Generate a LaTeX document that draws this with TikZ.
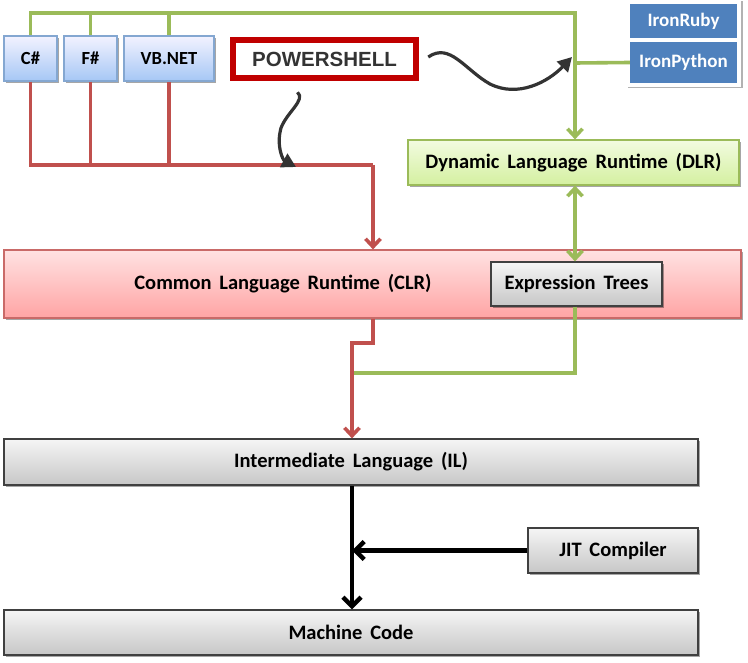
\documentclass[tikz,border=0pt]{standalone}
\usepackage{fontspec}
\setmainfont{Carlito}
\newfontfamily\psfont{Liberation Sans}
\usetikzlibrary{arrows.meta,shadows,calc}
\definecolor{gline}{HTML}{9BBB59}
\definecolor{rline}{HTML}{C0504D}
\definecolor{ironblue}{HTML}{4F81BD}
\definecolor{psred}{HTML}{C00000}
\newcommand{\wsp}{\hspace{0.38em}}
\tikzset{
  box/.style={rectangle, inner sep=0pt, font=\fontsize{20.5}{24}\selectfont\bfseries, text=black,
    drop shadow={shadow xshift=2pt, shadow yshift=-2pt, opacity=0.35, fill=black}},
  langbox/.style={box, draw=ironblue!70, line width=1.2pt, font=\fontsize{18.5}{22}\selectfont\bfseries, top color=blue!5!white, bottom color={rgb,255:red,166;green,199;blue,245}},
  graybox/.style={box, draw=black!75, line width=1.2pt, top color=black!4, bottom color=black!22},
  clrbox/.style={box, draw=rline!85, line width=1.2pt, top color={rgb,255:red,255;green,226;blue,226}, bottom color={rgb,255:red,255;green,164;blue,164}},
  dlrbox/.style={box, draw=gline, line width=1.2pt, top color={rgb,255:red,242;green,251;blue,224}, bottom color={rgb,255:red,212;green,240;blue,160}},
  ironbox/.style={rectangle, inner sep=0pt, fill=ironblue, text=white, font=\fontsize{19}{22}\selectfont\bfseries},
  gconn/.style={draw=gline, line width=3.6pt},
  rconn/.style={draw=rline, line width=3.6pt},
  kconn/.style={draw=black, line width=4.5pt},
  barb/.style={-{Straight Barb[length=8pt,width=15pt,line width=3.6pt]}},
  wave/.style={draw=black!80, line width=3.2pt, -{Triangle[length=14pt,width=15pt]}},
}
\begin{document}
\begin{tikzpicture}[x=1pt,y=-1pt]
\useasboundingbox (0,0) rectangle (748,663);
% white panel behind Iron languages
\node[rectangle, fill=white, minimum width=115pt, minimum height=87pt, inner sep=0pt,
  drop shadow={shadow xshift=1.5pt, shadow yshift=-1.5pt, opacity=0.3, fill=black}] (panel) at (683.5,43.5) {};
\node[ironbox, minimum width=107pt, minimum height=34pt] (ruby) at (683.5,21) {IronRuby};
\node[ironbox, minimum width=107pt, minimum height=41pt] (python) at (683.5,62.5) {IronPython};

\node[langbox, minimum width=53pt, minimum height=45pt] (cs) at (30.5,58.5) {C\#};
\node[langbox, minimum width=53pt, minimum height=45pt] (fs) at (90.5,58.5) {F\#};
\node[langbox, minimum width=90pt, minimum height=45pt] (vb) at (169,58.5) {VB.NET};

\node[rectangle, inner sep=0pt, draw=psred, line width=6.5pt, fill=white, minimum width=183pt, minimum height=38pt,
  text=black!80, font=\fontsize{20.5}{24}\selectfont\psfont\bfseries,
  drop shadow={shadow xshift=3pt, shadow yshift=-3pt, opacity=0.35, fill=black}] (ps) at (324.5,59) {POWERSHELL};

\node[dlrbox, minimum width=331pt, minimum height=45pt] (dlr) at (573.5,162.5) {Dynamic\wsp Language\wsp Runtime\wsp (DLR)};
\node[clrbox, minimum width=737pt, minimum height=68pt] (clr) at (372.5,284) {};
\node[font=\fontsize{20.5}{24}\selectfont\bfseries] (clrt) at (283,284) {Common\wsp Language\wsp Runtime\wsp (CLR)};
\node[graybox, minimum width=171pt, minimum height=44pt] (et) at (576.5,284) {Expression\wsp Trees};
\node[graybox, minimum width=694pt, minimum height=46pt] (il) at (351,462) {Intermediate\wsp Language\wsp (IL)};
\node[graybox, minimum width=170pt, minimum height=45pt] (jit) at (613,550.5) {JIT\wsp Compiler};
\node[graybox, minimum width=694pt, minimum height=45pt] (mc) at (351,632.5) {Machine\wsp Code};

% junction coordinates
\coordinate (gtop) at (575,13);
\coordinate (gpy) at (575,63);
\coordinate (rj) at (373,165);
\coordinate (rdown) at (373,343);
\coordinate (rleft) at (352,343);
\coordinate (gj) at (575,373);
\coordinate (kj) at (352,550.5);

% green connectors
\draw[gconn, barb] (cs.north) |- (gtop) -- (gtop |- dlr.north);
\draw[gconn] (fs.north) -- (fs.north |- gtop);
\draw[gconn] (vb.north) -- (vb.north |- gtop);
\draw[gconn] (python.west) -- (gpy);
\draw[gconn, {Straight Barb[length=8pt,width=15pt,line width=3.6pt]}-{Straight Barb[length=8pt,width=15pt,line width=3.6pt]}] (gtop |- dlr.south) -- (gtop |- et.north);
\draw[gconn] (gtop |- et.south) -- (gj) -- (gj -| rleft);

% red connectors
\draw[rconn] (cs.south) |- (rj);
\draw[rconn] (fs.south) -- (fs.south |- rj);
\draw[rconn] (vb.south) -- (vb.south |- rj);
\draw[rconn, barb] (rj) -- (rj |- clr.north);
\draw[rconn, barb] (rj |- clr.south) -- (rdown) -- (rleft) -- (rleft |- il.north);

% black connectors
\draw[kconn, -{Straight Barb[length=9pt,width=18pt,line width=4.5pt]}] (rleft |- il.south) -- (rleft |- mc.north);
\draw[kconn, -{Straight Barb[length=9pt,width=18pt,line width=4.5pt]}] (jit.west) -- (kj);

% powershell wave arrows
\draw[wave] ($(ps.east)+(9,-2)$) .. controls (450,42) and (465,70) .. (490,84) .. controls (518,98) and (548,82) .. ($(gpy)+(-3,-6)$);
\draw[wave] ($(ps.south)+(-27,11)$) .. controls (306,100) and (287,112) .. (281,128) .. controls (276,146) and (283,160) .. (296,167);
\end{tikzpicture}
\end{document}
